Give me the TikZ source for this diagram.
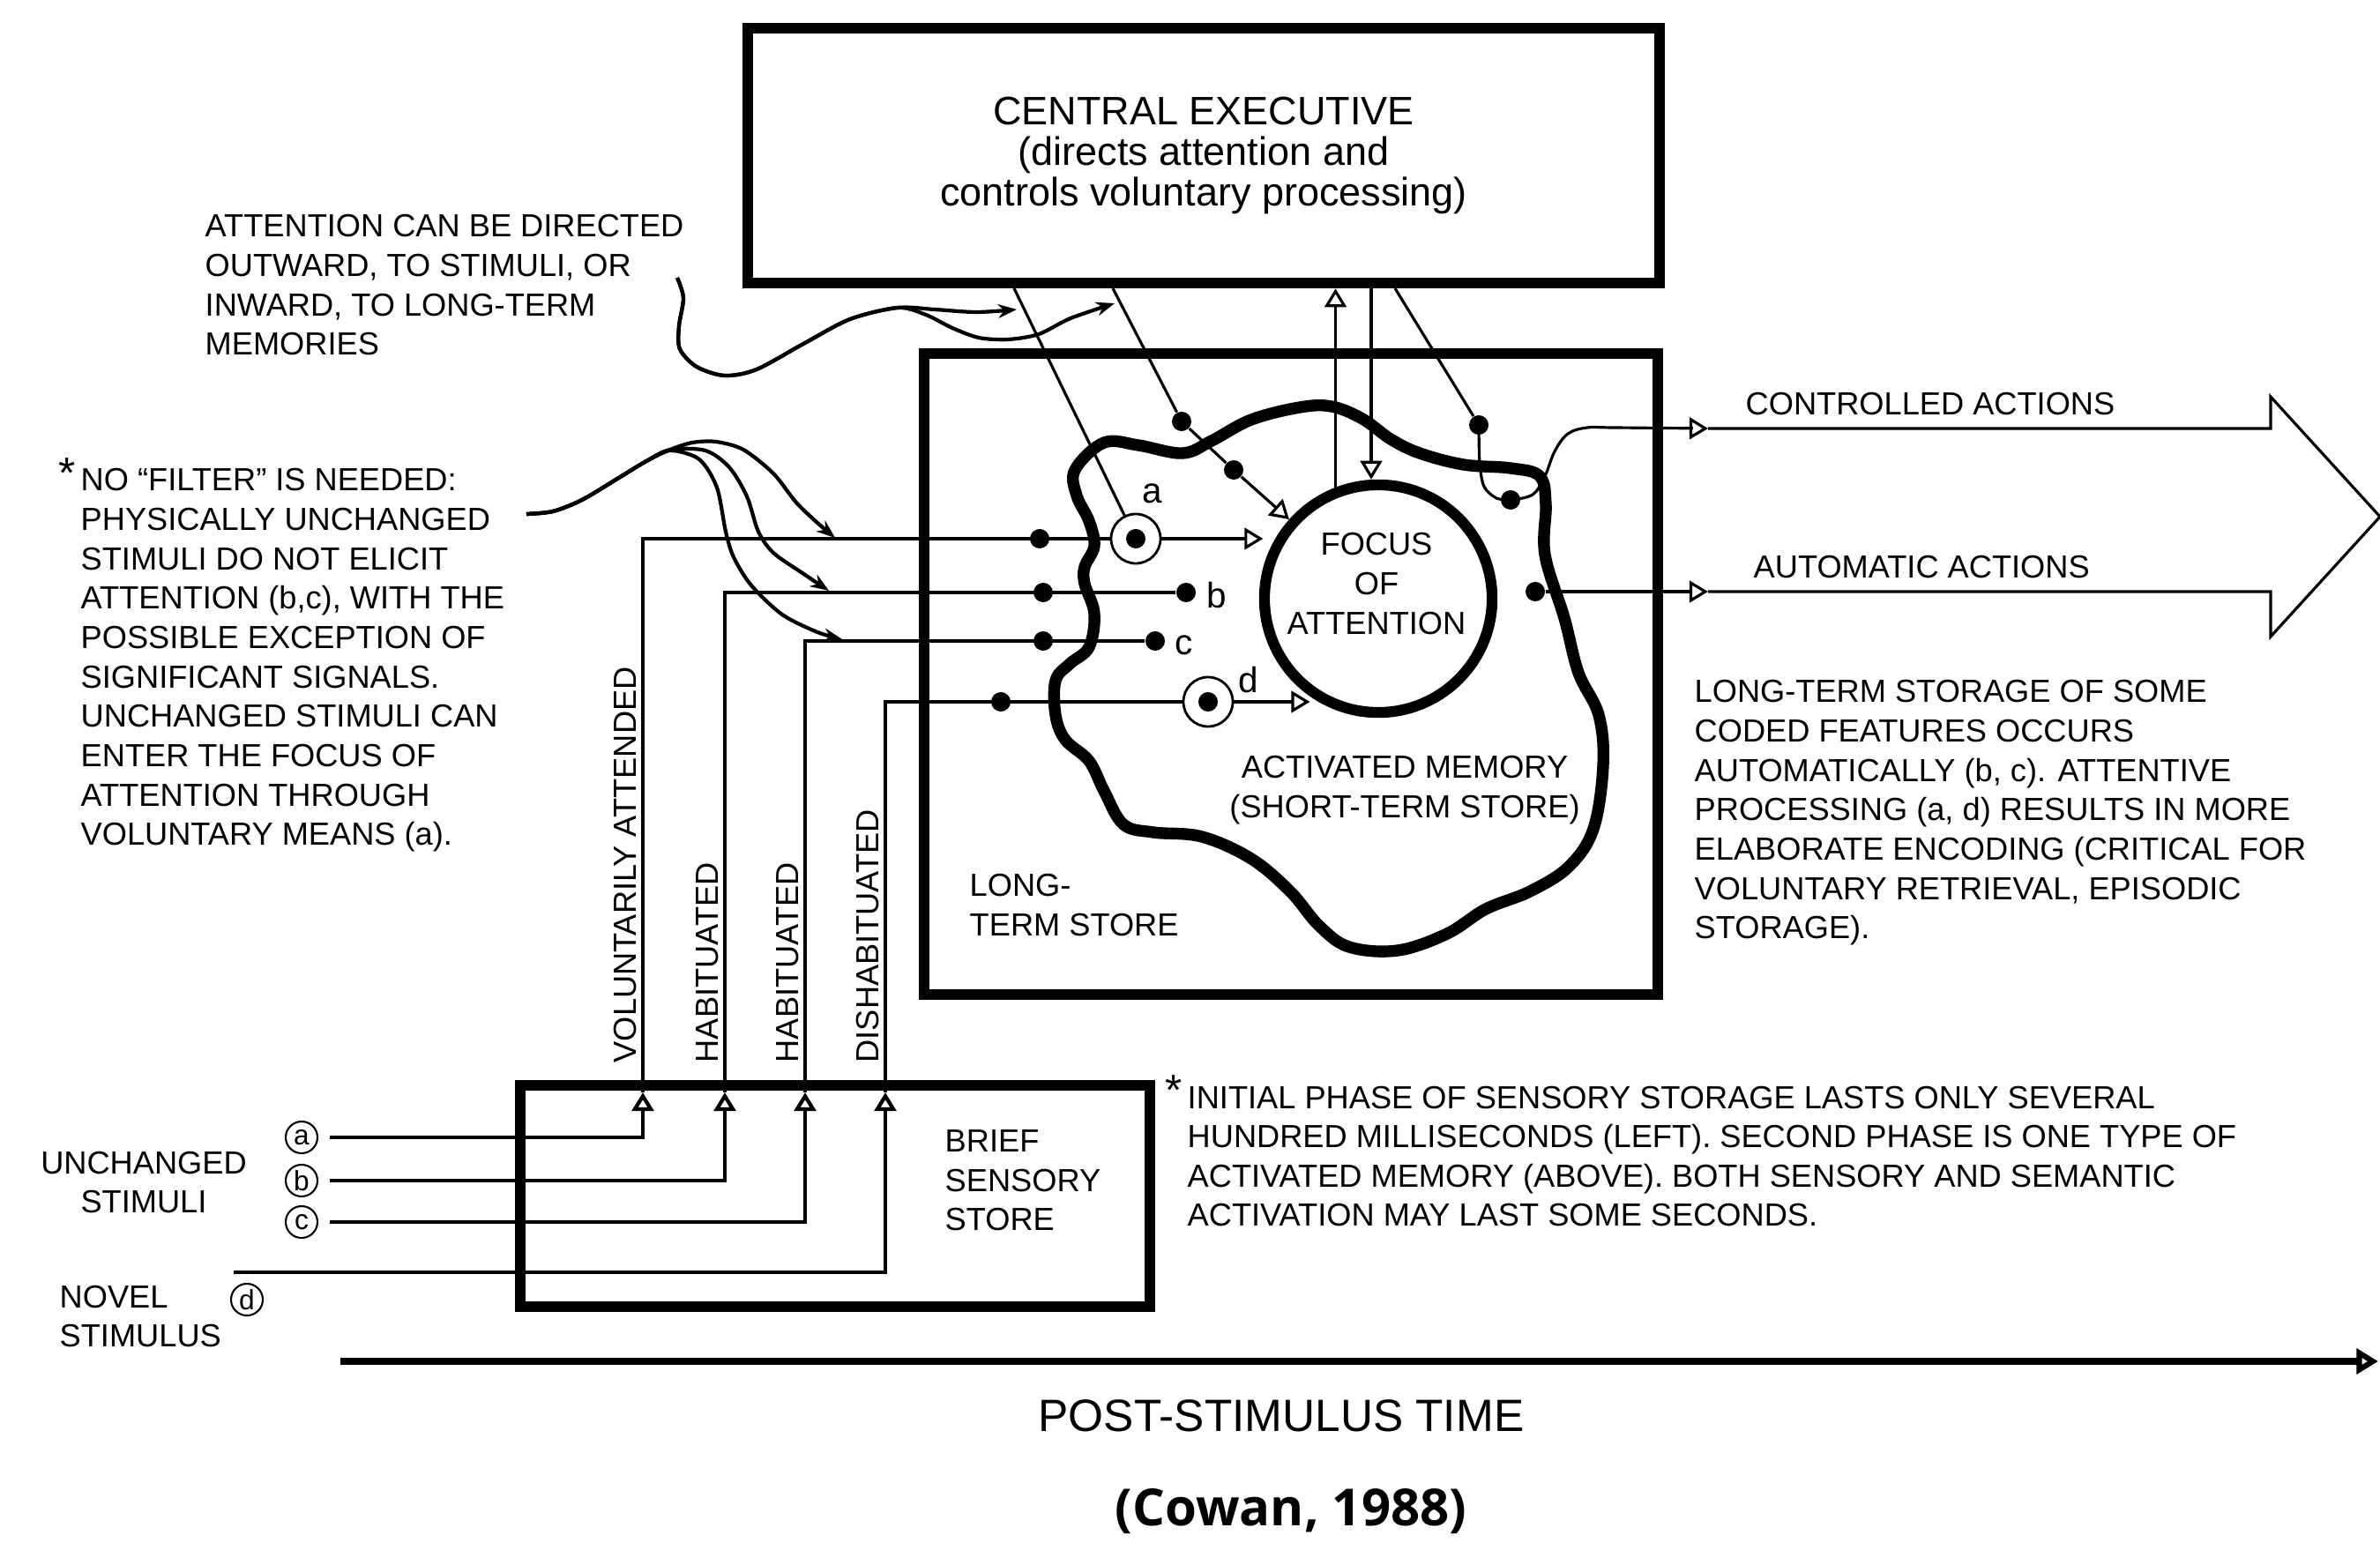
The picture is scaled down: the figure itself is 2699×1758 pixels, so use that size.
\documentclass[tikz,border=0pt]{standalone}
\usepackage{fontspec}
\setmainfont{Liberation Sans}
\newfontfamily\citefont{Open Sans}
\usetikzlibrary{arrows.meta}
\newcommand{\notefont}{\fontsize{10.3}{12.7}\selectfont}
\newcommand{\cefont}{\fontsize{12.8}{13.2}\selectfont}
\newcommand{\letterfont}{\fontsize{11.5}{12}\selectfont}
\newcommand{\notestar}{\llap{\smash{\raisebox{1pt}{\fontsize{14}{14}\selectfont *}}\,}}
\tikzset{
    every node/.style={inner sep=0pt}, % text sits right on its anchor
    >={Stealth[length=6pt, width=4.5pt]}, % filled heads for the wavy pointers
    store/.style={draw, line width=3.5pt}, % the heavy boxes
    wire/.style={line width=0.9pt}, % thin connecting lines
    stim/.style={line width=1.2pt}, % stimulus lines
    opentip/.style={-{Triangle[open, length=6pt, width=7pt]}}, % open arrow heads
    curly/.style={line width=1.2pt, ->}, % hand drawn pointers
    dot/.style={circle, fill, minimum size=0.22cm},
    ring/.style={circle, draw, line width=0.8pt, minimum size=0.56cm},
    cletter/.style={circle, draw, line width=0.6pt, minimum size=0.36cm, outer sep=4pt, font=\fontsize{9}{9}\selectfont},
    note/.style={align=left, font=\notefont},
}
\begin{document}
\begin{tikzpicture}[x=0.01cm, y=-0.01cm]
\useasboundingbox (0,0) rectangle (2699,1758);

% stores
\node[store, minimum width=10.34cm, minimum height=2.89cm, align=center, font=\cefont] (ce) at (1365,176.5)
    {CENTRAL EXECUTIVE\\(directs attention and\\controls voluntary processing)};
\node[store, minimum width=8.32cm, minimum height=7.27cm] (lts) at (1464,764.5) {};
\node[store, minimum width=7.14cm, minimum height=2.51cm] (bss) at (947,1356.5) {};

% activated memory
\draw[line width=3.8pt] plot[smooth cycle, tension=0.6] coordinates {
    (1219,533) (1252,502) (1291,505) (1341,514) (1374,500) (1419,476) (1474,462)
    (1510,461) (1545,475) (1577,498) (1610,514) (1660,527) (1713,531) (1746,540)
    (1753,572) (1752,629) (1774,701) (1790,763) (1813,811) (1818,868) (1807,940)
    (1779,983) (1735,1011) (1685,1031) (1641,1059) (1585,1078) (1530,1074) (1496,1050)
    (1463,1011) (1419,974) (1363,949) (1308,944) (1274,935) (1252,897) (1235,863)
    (1208,839) (1197,811) (1197,772) (1213,753) (1235,734) (1241,696) (1230,662)
    (1230,643) (1241,619) (1235,591) (1221,562)};
\node[circle, draw, line width=3.5pt, minimum size=2.58cm] (focus) at (1563,679) {};

% texts
\node[note, align=center] (focuslabel) at (1561,662) {FOCUS\\OF\\ATTENTION};
\node[note, align=center, anchor=north] (amlabel) at (1593,857) {ACTIVATED MEMORY\\(SHORT-TERM STORE)};
\node[note, anchor=north west] (ltslabel) at (1099,991) {LONG-\\TERM STORE};
\node[note, anchor=north west] (bsslabel) at (1071,1281) {BRIEF\\SENSORY\\STORE};
\node[note, anchor=north west] (attnote) at (232,243)
    {ATTENTION CAN BE DIRECTED\\OUTWARD, TO STIMULI, OR\\INWARD, TO LONG-TERM\\MEMORIES};
\node[note, anchor=north west] (filternote) at (91,531)
    {\notestar NO ``FILTER'' IS NEEDED:\\PHYSICALLY UNCHANGED\\STIMULI DO NOT ELICIT\\ATTENTION (b,c), WITH THE\\POSSIBLE EXCEPTION OF\\SIGNIFICANT SIGNALS.\\UNCHANGED STIMULI CAN\\ENTER THE FOCUS OF\\ATTENTION THROUGH\\VOLUNTARY MEANS (a).};
\node[note, anchor=north west] (rightnote) at (1921,771)
    {LONG-TERM STORAGE OF SOME\\CODED FEATURES OCCURS\\AUTOMATICALLY (b, c). ATTENTIVE\\PROCESSING (a, d) RESULTS IN MORE\\ELABORATE ENCODING (CRITICAL FOR\\VOLUNTARY RETRIEVAL, EPISODIC\\STORAGE).};
\node[note, anchor=north west] (sensnote) at (1346,1231)
    {\notestar INITIAL PHASE OF SENSORY STORAGE LASTS ONLY SEVERAL\\HUNDRED MILLISECONDS (LEFT). SECOND PHASE IS ONE TYPE OF\\ACTIVATED MEMORY (ABOVE). BOTH SENSORY AND SEMANTIC\\ACTIVATION MAY LAST SOME SECONDS.};
\node[font=\notefont, anchor=west] (ctrllabel) at (1979,458) {CONTROLLED ACTIONS};
\node[font=\notefont, anchor=west] (autolabel) at (1988,643) {AUTOMATIC ACTIONS};
\node[note, align=center] (unchlabel) at (163,1341) {UNCHANGED\\STIMULI};
\node[note, anchor=north west] (novlabel) at (67,1457) {NOVEL\\STIMULUS};
\node[rotate=90, anchor=base west, font=\notefont] (lblvol) at (721,1206) {VOLUNTARILY ATTENDED};
\node[rotate=90, anchor=base west, font=\notefont] (lblhabb) at (814,1206) {HABITUATED};
\node[rotate=90, anchor=base west, font=\notefont] (lblhabc) at (905,1206) {HABITUATED};
\node[rotate=90, anchor=base west, font=\notefont] (lbldis) at (996,1206) {DISHABITUATED};
\node[font=\fontsize{14.6}{16}\selectfont] (timelabel) at (1453,1606) {POST-STIMULUS TIME};
\node[font=\citefont\bfseries\fontsize{16.5}{18}\selectfont] (citation) at (1464,1714) {(Cowan, 1988)};

% stimuli
\node[cletter] (ca) at (342,1290) {a};
\node[cletter] (cb) at (342,1339) {b};
\node[cletter] (cc) at (342,1386) {c};
\node[cletter] (cd) at (280,1474) {d};
\coordinate (din) at (265,1443);
\coordinate (tipa) at (729,1239);
\coordinate (tipb) at (822,1239);
\coordinate (tipc) at (913,1239);
\coordinate (tipd) at (1004,1239);

% activations
\node[dot] (da) at (1179,611) {};
\node[ring] (ringa) at (1288,611) {};
\node[dot] (ringadot) at (ringa) {};
\node[dot] (db1) at (1183,672) {};
\node[dot] (db2) at (1345,672) {};
\node[dot] (dc1) at (1183,727) {};
\node[dot] (dc2) at (1310,727) {};
\node[dot] (dd) at (1135,796) {};
\node[ring] (ringd) at (1370,796) {};
\node[dot] (ringddot) at (ringd) {};
\node[dot] (dce1) at (1340,478) {};
\node[dot] (dce2) at (1399,533) {};
\node[dot] (dce3) at (1677,482) {};
\node[dot] (dce4) at (1713,567) {};
\node[dot] (dauto) at (1741,671) {};
\node[font=\letterfont] (la) at (1307,560) {a};
\node[font=\letterfont] (lb) at (1380,675) {b};
\node[font=\letterfont] (lc) at (1343,732) {c};
\node[font=\letterfont] (ld) at (1416,771) {d};

\draw[stim, opentip] (ca) -| (tipa);
\draw[stim, opentip] (cb) -| (tipb);
\draw[stim, opentip] (cc) -| (tipc);
\draw[stim, opentip] (din) -| (tipd);
\draw[wire] (tipa) |- (ringa);
\draw[wire] (tipb) |- (db2);
\draw[wire] (tipc) |- (dc2);
\draw[wire] (tipd) |- (ringd);
\draw[wire, opentip] (ringa) -- (ringa -| focus.165);
\draw[wire, opentip] (ringd) -- (ringd -| focus.235);

% central executive links
\coordinate (cea) at (1150,327);
\coordinate (ceb) at (1262,327);
\coordinate (cec) at (1582,327);
\coordinate (ced) at (1555,327);
\draw[wire] (cea) -- (ringa);
\draw[wire] (ceb) -- (dce1) -- (dce2);
\draw[wire, opentip] (dce2) -- (focus);
\draw[wire] (cec) -- (dce3);
\draw[wire, opentip] (focus.111) -- (focus.111 |- ce.south);
\draw[wire, opentip] (ced) -- (ced |- focus.north);

% actions
\coordinate (carrc) at (1937,486);
\coordinate (carra) at (1937,671);
\coordinate (outtip) at (2699,586);
\draw[wire] plot[smooth] coordinates {(dce3) (1678,525) (1683,552) (1697,565) (dce4)};
\draw[wire, opentip] plot[smooth, tension=0.6] coordinates
    {(dce4) (1738,561) (1752,540) (1763,512) (1778,492) (1800,485) (1830,485) (carrc)};
\draw[wire, opentip] (dauto) -- (carra);
\draw[wire] (carrc) -- (2575,486) -- (2575,450) -- (outtip) -- (2575,722) -- (2575,671) -- (carra);

% pointers
\coordinate (attfrom) at (768,315);
\coordinate (filterfrom) at (597,583);
\draw[curly] plot[smooth] coordinates {(attfrom) (775,338) (770,370) (771,396) (790,416) (822,426)
    (858,419) (911,390) (964,362) (1018,349) (1060,351) (1107,354) (1153,351)};
\draw[curly] plot[smooth] coordinates {(attfrom) (775,338) (770,370) (771,396) (790,416) (822,426)
    (858,419) (911,390) (964,362) (1018,349) (1050,357) (1080,372) (1110,383) (1143,385)
    (1178,379) (1214,361) (1264,344)};
\draw[curly] plot[smooth] coordinates {(filterfrom) (627,580) (660,567) (700,543) (733,523) (760,510)
    (785,502) (812,501) (843,510) (877,537) (903,570) (927,593) (947,610)};
\draw[curly] plot[smooth] coordinates {(filterfrom) (627,580) (660,567) (700,543) (733,523) (760,510)
    (800,511) (827,530) (847,563) (860,603) (877,627) (910,650) (940,670)};
\draw[curly] plot[smooth] coordinates {(filterfrom) (627,580) (660,567) (700,543) (733,523) (760,511)
    (793,521) (813,553) (823,603) (832,632) (852,664) (887,697) (927,717) (955,725)};

% time
\coordinate (tstart) at (386,1544);
\coordinate (tend) at (2697,1544);
\draw[line width=2pt, -{Triangle[open, length=7pt, width=8pt]}] (tstart) -- (tend);
\end{tikzpicture}
\end{document}
